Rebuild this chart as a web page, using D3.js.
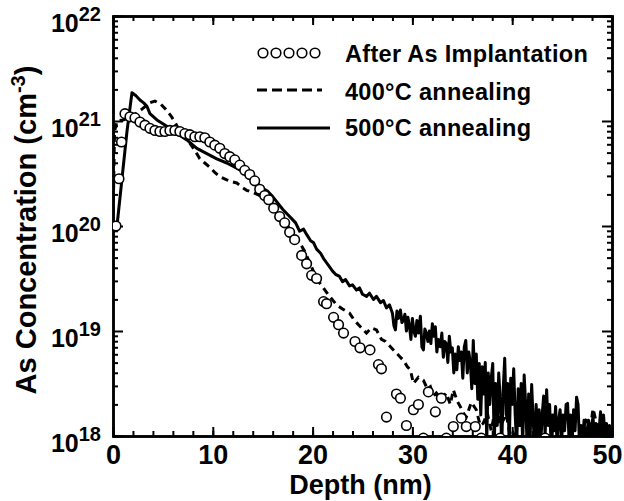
<!DOCTYPE html>
<html>
<head>
<meta charset="utf-8">
<script src="https://cdn.jsdelivr.net/npm/d3@7"></script>
<style>
  body { margin: 0; background: #fff; }
  text { font-family: "Liberation Sans", Arial, sans-serif; font-weight: bold; fill: #000; }
</style>
</head>
<body>
<script>
'use strict';

// [depth (nm), log10 concentration (cm^-3)]
const implantPoints = [[0.3, 20.0], [0.6, 20.45], [0.85, 20.8], [1.2, 21.07], [1.7, 21.04], [2.2, 21.03], [2.7, 20.99], [3.2, 20.96],
  [3.7, 20.93], [4.2, 20.91], [4.7, 20.9], [5.2, 20.9], [5.7, 20.91], [6.2, 20.91], [6.7, 20.9], [7.2, 20.88], [7.7, 20.87],
  [8.2, 20.85], [8.7, 20.85], [9.2, 20.84], [9.7, 20.8], [10.2, 20.77], [10.7, 20.74], [11.2, 20.69], [11.7, 20.66], [12.2, 20.63],
  [12.7, 20.58], [13.2, 20.53], [13.7, 20.49], [14.2, 20.43], [14.7, 20.35], [15.2, 20.29], [15.6, 20.25], [16.1, 20.17],
  [16.7, 20.09], [17.2, 20.03], [17.7, 19.94], [18.2, 19.87], [18.9, 19.72], [19.4, 19.64], [19.9, 19.53], [20.4, 19.5],
  [21.1, 19.28], [21.4, 19.26], [22.1, 19.13], [22.6, 19.06], [23.1, 18.98], [24.25, 18.9], [24.75, 18.84], [25.75, 18.82],
  [26.6, 18.68], [26.9, 18.64], [27.4, 18.18], [28.4, 18.4], [28.8, 18.36], [29.4, 18.1], [30.1, 18.25], [30.6, 18.3],
  [31.1, 17.98], [31.6, 18.42], [32.3, 18.23], [32.9, 18.36], [33.4, 17.98], [34.1, 18.09], [34.9, 18.17], [35.4, 18.09],
  [36.3, 18.09], [36.9, 17.98], [38.8, 17.98], [43.3, 17.98]];

const anneal400Points = [[0, 20.0], [0.15, 20.9], [0.4, 21.0], [1.0, 21.01], [1.6, 21.03], [2.3, 21.07], [3.0, 21.12], [3.6, 21.17],
  [4.2, 21.19], [4.8, 21.16], [5.3, 21.11], [5.8, 21.05], [6.2, 20.99], [6.6, 20.92], [7.0, 20.87], [7.7, 20.79], [8.2, 20.72],
  [8.7, 20.64], [9.2, 20.6], [9.7, 20.56], [10.2, 20.51], [10.7, 20.47], [11.4, 20.44], [12.0, 20.42], [12.4, 20.41], [12.9, 20.37],
  [13.4, 20.34], [14.0, 20.32], [14.5, 20.3], [15.0, 20.27], [15.6, 20.22], [16.2, 20.15], [16.8, 20.08], [17.4, 20.01],
  [18.0, 19.94], [18.6, 19.86], [19.2, 19.76], [19.8, 19.63], [20.4, 19.5], [21.0, 19.42], [21.7, 19.33], [22.4, 19.25],
  [23.0, 19.21], [23.7, 19.17], [24.2, 19.1], [24.6, 19.06], [25.0, 19.02], [25.4, 18.98], [25.9, 19.03], [26.4, 19.01],
  [26.9, 18.92], [27.3, 18.9], [27.8, 18.85], [28.3, 18.8], [28.7, 18.76], [29.1, 18.72], [29.5, 18.66], [29.8, 18.63],
  [30.1, 18.5], [30.6, 18.56], [31.1, 18.53], [31.5, 18.45], [31.8, 18.47], [32.1, 18.38], [32.4, 18.41], [32.9, 18.35],
  [33.4, 18.41], [33.8, 18.3], [34.1, 18.44], [34.5, 18.33], [34.8, 18.28], [35.1, 18.22], [35.4, 18.18], [35.9, 18.32],
  [36.4, 18.25], [36.8, 18.1], [37.1, 18.12], [37.5, 18.22], [37.9, 18.05], [38.4, 18.31], [38.8, 18.1], [39.1, 18.15],
  [39.4, 18.21], [39.8, 18.0], [40.1, 18.03], [40.6, 17.9], [41.2, 17.95], [41.8, 17.85], [42.5, 17.92], [43.2, 17.85],
  [44.0, 17.9], [44.8, 17.95], [45.5, 17.85], [46.2, 17.92], [46.8, 17.98], [47.2, 18.1], [47.5, 18.18], [47.8, 18.05],
  [48.1, 18.26], [48.5, 18.1], [48.9, 17.95], [49.4, 17.9], [50.0, 17.9]];

const anneal500Points = [[0.4, 20.0], [0.9, 20.45], [1.4, 20.9], [1.9, 21.27], [2.3, 21.24], [2.7, 21.2], [3.1, 21.17], [3.4, 21.14],
  [3.7, 21.07], [4.4, 21.01], [5.4, 20.95], [6.4, 20.88], [7.4, 20.82], [8.4, 20.74], [9.4, 20.69], [10.4, 20.64], [11.4, 20.6],
  [12.4, 20.55], [13.0, 20.52], [13.7, 20.46], [14.4, 20.41], [15.0, 20.36], [15.5, 20.33], [16.0, 20.28], [16.5, 20.22],
  [17.0, 20.16], [17.5, 20.11], [17.9, 20.07], [18.3, 20.03], [18.7, 19.95], [19.1, 19.97], [19.4, 19.92], [19.8, 19.86],
  [20.1, 19.84], [20.4, 19.78], [20.8, 19.74], [21.1, 19.69], [21.4, 19.65], [21.7, 19.61], [22.0, 19.57], [22.3, 19.54],
  [22.7, 19.52], [23.0, 19.47], [23.3, 19.49], [23.7, 19.43], [24.0, 19.44], [24.4, 19.39], [24.7, 19.41], [25.0, 19.35],
  [25.4, 19.33], [25.7, 19.36], [26.1, 19.3], [26.4, 19.33], [26.8, 19.27], [27.1, 19.29], [27.4, 19.22], [27.7, 19.25],
  [28.0, 19.17], [28.15, 19.05], [28.3, 19.01], [28.45, 19.19], [28.6, 19.12], [28.8, 19.2], [28.95, 19.08], [29.1, 19.1],
  [29.25, 19.16], [29.4, 19.0], [29.55, 19.13], [29.7, 19.05], [29.85, 18.92], [30.0, 19.12], [30.15, 19.0], [30.3, 18.95],
  [30.45, 19.1], [30.6, 18.98], [30.8, 19.14], [30.95, 18.85], [31.1, 18.82], [31.25, 19.02], [31.4, 18.98], [31.55, 18.9],
  [31.7, 19.0], [31.85, 18.88], [32.0, 19.07], [32.15, 18.95], [32.3, 19.04], [32.45, 18.8], [32.6, 18.92], [32.8, 18.85],
  [32.95, 18.98], [33.1, 18.75], [33.25, 18.9], [33.4, 18.88], [33.55, 18.7], [33.7, 18.95], [33.85, 18.8], [34.0, 18.84],
  [34.15, 18.6], [34.3, 18.78], [34.45, 18.63], [34.6, 18.85], [34.75, 18.72], [34.9, 18.8], [35.05, 18.55], [35.2, 18.85],
  [35.35, 18.91], [35.5, 18.6], [35.65, 18.8], [35.8, 18.7], [35.95, 18.45], [36.1, 18.91], [36.25, 18.5], [36.4, 18.78],
  [36.55, 18.35], [36.7, 18.69], [36.85, 18.2], [37.0, 18.66], [37.15, 18.4], [37.3, 18.7], [37.45, 17.95], [37.6, 18.6],
  [37.75, 18.3], [37.9, 18.55], [38.05, 18.69], [38.2, 17.9], [38.35, 18.5], [38.5, 18.1], [38.65, 18.6], [38.8, 18.35],
  [38.95, 17.9], [39.1, 18.45], [39.25, 18.74], [39.4, 18.2], [39.55, 18.5], [39.7, 17.9], [39.85, 18.55], [40.0, 18.3],
  [40.15, 18.64], [40.3, 18.2], [40.45, 17.9], [40.6, 18.45], [40.75, 18.1], [40.9, 18.5], [41.05, 17.9], [41.2, 18.58],
  [41.35, 18.3], [41.5, 17.9], [41.65, 18.4], [41.8, 18.0], [41.95, 18.49], [42.1, 18.15], [42.25, 17.9], [42.4, 18.3],
  [42.55, 17.95], [42.7, 18.25], [42.85, 17.9], [43.0, 18.2], [43.15, 18.38], [43.3, 18.0], [43.45, 18.44], [43.6, 18.1],
  [43.75, 18.3], [43.9, 17.9], [44.05, 18.2], [44.2, 18.05], [44.35, 18.28], [44.5, 17.9], [44.65, 18.15], [44.8, 18.25],
  [44.95, 17.95], [45.1, 18.2], [45.25, 18.05], [45.4, 18.3], [45.55, 18.31], [45.7, 17.95], [45.85, 18.2], [46.0, 17.9],
  [46.15, 18.25], [46.3, 18.05], [46.45, 18.37], [46.6, 18.3], [46.75, 17.9], [46.9, 18.1], [47.05, 17.95], [47.2, 18.15],
  [47.35, 17.9], [47.5, 18.05], [47.65, 18.15], [47.8, 17.9], [47.95, 18.1], [48.1, 18.18], [48.25, 17.95], [48.4, 18.12],
  [48.55, 17.9], [48.7, 18.05], [48.85, 18.23], [49.0, 17.95], [49.15, 18.2], [49.3, 18.0], [49.45, 18.12], [49.6, 17.9],
  [49.75, 18.1], [49.9, 17.95], [50.0, 18.05]];

const xTicks = [0, 10, 20, 30, 40, 50];
const yTicks = [1e18, 1e19, 1e20, 1e21, 1e22];
const legendLabels = ['After As Implantation', '400°C annealing', '500°C annealing'];

(function() {

  let svg = '';
  const margin = { left: 113, right: 612, top: 16, bottom: 436 };

  window.onload = function() {
    svg = d3.select('body')
      .append('svg')
      .attr('width', 624)
      .attr('height', 501);

    let scales = drawAxes();
    plotData(scales);
    makeLegend();
    makeLabels();
  };

  // turn [depth, log10] pairs into objects for the scales
  function series(points) {
    return points.map(p => ({ depth: p[0], conc: Math.pow(10, p[1]) }));
  }

  function drawAxes() {
    let xScale = d3.scaleLinear()
      .domain([0, 50])
      .range([margin.left, margin.right]);
    let yScale = d3.scaleLog()
      .domain([1e18, 1e22])
      .range([margin.bottom, margin.top]);

    let xMinor = d3.range(0, 51, 2);
    let yMinor = [];
    yTicks.slice(0, 4).forEach(function(t) {
      for (let k = 2; k <= 9; k++) yMinor.push(t * k);
    });

    // minor ticks on all four sides
    svg.append('g')
      .attr('transform', 'translate(0,' + margin.bottom + ')')
      .call(d3.axisBottom(xScale).tickValues(xMinor).tickSize(-5).tickFormat(''));
    svg.append('g')
      .attr('transform', 'translate(0,' + margin.top + ')')
      .call(d3.axisTop(xScale).tickValues(xMinor).tickSize(-5).tickFormat(''));
    svg.append('g')
      .attr('transform', 'translate(' + margin.left + ',0)')
      .call(d3.axisLeft(yScale).tickValues(yMinor).tickSize(-5).tickFormat(''));
    svg.append('g')
      .attr('transform', 'translate(' + margin.right + ',0)')
      .call(d3.axisRight(yScale).tickValues(yMinor).tickSize(-5).tickFormat(''));

    // major ticks + labels
    let xAxis = svg.append('g')
      .attr('transform', 'translate(0,' + margin.bottom + ')')
      .call(d3.axisBottom(xScale).tickValues(xTicks).tickSize(-9).tickSizeOuter(0).tickPadding(9));
    xAxis.selectAll('text')
      .style('font-size', '27px')
      .attr('dx', d => d === 50 ? -5 : 0);

    svg.append('g')
      .attr('transform', 'translate(0,' + margin.top + ')')
      .call(d3.axisTop(xScale).tickValues(xTicks).tickSize(-9).tickSizeOuter(0).tickFormat(''));

    let yAxis = svg.append('g')
      .attr('transform', 'translate(' + margin.left + ',0)')
      .call(d3.axisLeft(yScale).tickValues(yTicks).tickSize(-10).tickSizeOuter(0).tickPadding(12));
    yAxis.selectAll('text').each(function(d) {
      let t = d3.select(this).text('').attr('dy', '0.32em')
        .attr('y', 7)
        .style('font-size', '25px');
      t.append('tspan').text('10');
      t.append('tspan').attr('dy', -11).style('font-size', '20px').text(Math.round(Math.log10(d)));
    });

    svg.append('g')
      .attr('transform', 'translate(' + margin.right + ',0)')
      .call(d3.axisRight(yScale).tickValues(yTicks).tickSize(-10).tickSizeOuter(0).tickFormat(''));

    svg.selectAll('.tick line').attr('stroke', '#000').attr('stroke-width', 2);
    svg.selectAll('.domain').attr('stroke', '#000').attr('stroke-width', 2.5);

    return { xScale: xScale, yScale: yScale };
  }

  function plotData(map) {
    svg.append('clipPath').attr('id', 'plotClip')
      .append('rect')
      .attr('x', margin.left)
      .attr('y', margin.top)
      .attr('width', margin.right - margin.left)
      .attr('height', margin.bottom - margin.top);

    let plot = svg.append('g').attr('clip-path', 'url(#plotClip)');

    let line = d3.line()
      .x(d => map.xScale(d.depth))
      .y(d => map.yScale(d.conc));

    plot.append('path')
      .datum(series(anneal400Points))
      .attr('d', line)
      .attr('fill', 'none')
      .attr('stroke', '#000')
      .attr('stroke-width', 3)
      .attr('stroke-dasharray', '7,5');

    plot.append('path')
      .datum(series(anneal500Points))
      .attr('d', line)
      .attr('fill', 'none')
      .attr('stroke', '#000')
      .attr('stroke-width', 3)
      .attr('stroke-linejoin', 'round');

    plot.selectAll('.dot')
      .data(series(implantPoints))
      .enter()
      .append('circle')
      .attr('cx', d => map.xScale(d.depth))
      .attr('cy', d => map.yScale(d.conc))
      .attr('r', 4.8)
      .attr('fill', '#fff')
      .attr('stroke', '#000')
      .attr('stroke-width', 1.6);
  }

  function makeLegend() {
    let g = svg.append('g');
    [263, 276, 289, 302, 315].forEach(function(cx) {
      g.append('circle')
        .attr('cx', cx).attr('cy', 53).attr('r', 4.8)
        .attr('fill', '#fff').attr('stroke', '#000').attr('stroke-width', 1.6);
    });
    g.append('line')
      .attr('x1', 257).attr('x2', 322).attr('y1', 90).attr('y2', 90)
      .attr('stroke', '#000').attr('stroke-width', 3).attr('stroke-dasharray', '10,5');
    g.append('line')
      .attr('x1', 257).attr('x2', 330).attr('y1', 128).attr('y2', 128)
      .attr('stroke', '#000').attr('stroke-width', 3);

    g.selectAll('.legtext')
      .data(legendLabels)
      .enter()
      .append('text')
      .attr('x', 345)
      .attr('y', (d, i) => [62, 100, 136][i])
      .style('font-size', '23.5px')
      .style('letter-spacing', '0.3px')
      .text(d => d);
  }

  function makeLabels() {
    svg.append('text')
      .attr('x', (margin.left + margin.right) / 2 - 2)
      .attr('y', 494)
      .attr('text-anchor', 'middle')
      .style('font-size', '27px')
      .text('Depth (nm)');

    let yt = svg.append('text')
      .attr('transform', 'translate(36, 230)rotate(-90)')
      .attr('text-anchor', 'middle')
      .style('font-size', '29px');
    yt.append('tspan').text('As Concentration (cm');
    yt.append('tspan').attr('dy', -11).style('font-size', '20px').text('-3');
    yt.append('tspan').attr('dy', 11).text(')');
  }

})();
</script>
</body>
</html>
